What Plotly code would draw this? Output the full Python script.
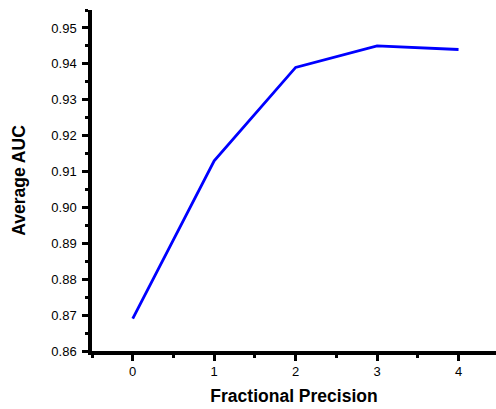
import plotly.graph_objects as go

precision = [0, 1, 2, 3, 4]
avg_auc = [0.869, 0.913, 0.939, 0.945, 0.944]
y_ticks = [0.86, 0.87, 0.88, 0.89, 0.90, 0.91, 0.92, 0.93, 0.94, 0.95]
y_ticklabels = ["0.86", "0.87", "0.88", "0.89", "0.90", "0.91", "0.92", "0.93", "0.94", "0.95"]

fig = go.Figure()
fig.add_trace(go.Scatter(x=precision, y=avg_auc, mode="lines",
                         line=dict(color="#0000ff", width=2.8), showlegend=False))

font = "Liberation Sans, Arial, sans-serif"
fig.update_layout(
    width=496, height=409,
    margin=dict(l=92, r=0, t=10, b=58),
    paper_bgcolor="white", plot_bgcolor="white",
    font=dict(family=font, size=13, color="black"),
    xaxis=dict(
        range=[-0.5, 4.46], tickvals=precision, ticktext=[str(p) for p in precision],
        showgrid=False, zeroline=False, showline=True, linecolor="black", linewidth=3.5,
        ticks="outside", ticklen=6, tickwidth=3, tickcolor="black",
        minor=dict(dtick=0.5, tick0=-0.5, ticks="outside", ticklen=3, tickwidth=3, tickcolor="black", showgrid=False),
        title=dict(text="<b>Fractional Precision</b>", font=dict(size=17.5, family=font), standoff=12),
        tickfont=dict(size=13), automargin=False,
    ),
    yaxis=dict(
        range=[0.86, 0.955], tickvals=y_ticks, ticktext=y_ticklabels,
        showgrid=False, zeroline=False, showline=True, linecolor="black", linewidth=3.5,
        ticks="outside", ticklen=6, tickwidth=3, tickcolor="black",
        minor=dict(dtick=0.005, tick0=0.86, ticks="outside", ticklen=3, tickwidth=3, tickcolor="black", showgrid=False),
        title=dict(text="<b>Average AUC</b>", font=dict(size=17.5, family=font), standoff=22),
        tickfont=dict(size=13), ticklabelstandoff=3, automargin=False,
    ),
)

fig.write_html("out.html")
